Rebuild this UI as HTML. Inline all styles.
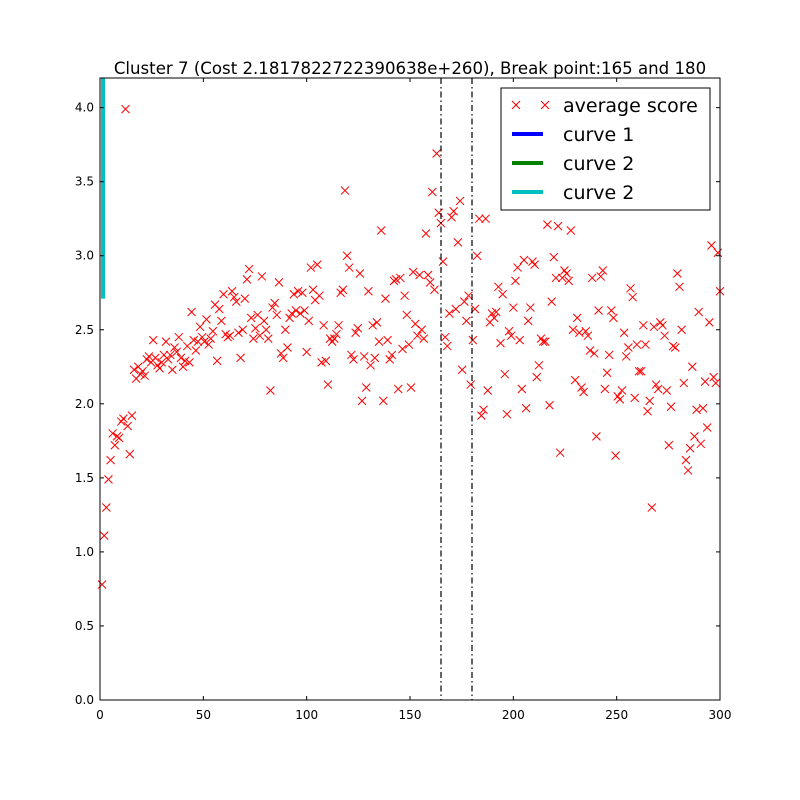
<!DOCTYPE html>
<html><head><meta charset="utf-8"><style>
body{margin:0;background:#fff}
svg{display:block;font-family:"DejaVu Sans","Liberation Sans",sans-serif}
</style></head><body>
<svg id="chart" width="800" height="800" xmlns="http://www.w3.org/2000/svg">
<rect width="800" height="800" fill="#fff"/>
<text x="410" y="74" text-anchor="middle" font-size="16.6">Cluster 7 (Cost 2.1817822722390638e+260), Break point:165 and 180</text>
<g id="plot"></g>
<rect x="100" y="78" width="620" height="622" fill="none" stroke="#000" stroke-width="1"/>
<g>
<rect x="501" y="88" width="209" height="122" fill="#fff" stroke="#000" stroke-width="1"/>
<g>
<path d="M512 101l8 8M520 101l-8 8M541 101l8 8M549 101l-8 8" stroke="#f00" stroke-width="1"/>
<text x="563" y="112" font-size="19">average score</text></g>
<g><line x1="512" y1="134" x2="543" y2="134" stroke="#00f" stroke-width="4"/><text x="563" y="141" font-size="19">curve 1</text></g>
<g><line x1="512" y1="163" x2="543" y2="163" stroke="#008000" stroke-width="4"/><text x="563" y="170" font-size="19">curve 2</text></g>
<g><line x1="512" y1="192" x2="543" y2="192" stroke="#00bfbf" stroke-width="4"/><text x="563" y="199" font-size="19">curve 2</text></g>
</g>
</svg>
<script>
const yValues=[0.78,1.11,1.30,1.49,1.62,1.80,1.72,1.78,1.77,1.88,1.90,3.99,1.85,1.66,1.92,2.23,2.17,2.25,2.20,2.22,2.19,2.30,2.32,2.28,2.43,2.31,2.26,2.24,2.28,2.33,2.42,2.30,2.33,2.23,2.38,2.35,2.45,2.31,2.25,2.29,2.39,2.28,2.62,2.43,2.36,2.42,2.52,2.45,2.42,2.57,2.40,2.44,2.49,2.67,2.29,2.64,2.56,2.74,2.47,2.45,2.46,2.76,2.72,2.69,2.48,2.31,2.50,2.71,2.84,2.91,2.58,2.44,2.51,2.60,2.46,2.86,2.56,2.50,2.44,2.09,2.65,2.68,2.60,2.82,2.34,2.31,2.50,2.38,2.58,2.61,2.74,2.63,2.76,2.61,2.75,2.63,2.35,2.56,2.92,2.77,2.70,2.94,2.73,2.28,2.53,2.29,2.13,2.44,2.42,2.44,2.47,2.53,2.75,2.77,3.44,3.00,2.92,2.33,2.30,2.48,2.51,2.88,2.02,2.32,2.11,2.76,2.26,2.53,2.31,2.55,2.42,3.17,2.02,2.71,2.43,2.30,2.33,2.83,2.84,2.10,2.85,2.37,2.73,2.60,2.40,2.11,2.89,2.54,2.46,2.87,2.50,2.44,3.15,2.87,2.82,3.43,2.77,3.69,3.29,3.22,2.96,2.45,2.39,2.61,3.26,3.30,2.64,3.09,3.37,2.23,2.69,2.56,2.73,2.13,2.43,2.64,3.00,3.25,1.92,1.96,3.25,2.09,2.55,2.61,2.58,2.62,2.79,2.41,2.74,2.20,1.93,2.49,2.46,2.65,2.83,2.92,2.43,2.10,2.97,1.97,2.56,2.65,2.96,2.94,2.18,2.26,2.44,2.42,2.42,3.21,1.99,2.69,2.99,2.85,3.20,1.67,2.85,2.90,2.88,2.83,3.17,2.50,2.16,2.58,2.48,2.11,2.08,2.49,2.46,2.36,2.85,2.34,1.78,2.63,2.86,2.90,2.10,2.21,2.33,2.63,2.58,1.65,2.05,2.03,2.09,2.48,2.32,2.38,2.78,2.72,2.04,2.40,2.22,2.22,2.53,2.40,1.95,2.02,1.30,2.52,2.13,2.10,2.55,2.53,2.46,2.09,1.72,1.98,2.39,2.38,2.88,2.79,2.50,2.14,1.62,1.55,1.70,2.25,1.78,1.96,2.62,1.73,1.97,2.15,1.84,2.55,3.07,2.18,2.14,3.02,2.76];
const xTicks=[0,50,100,150,200,250,300];
const yTicks=[0.0,0.5,1.0,1.5,2.0,2.5,3.0,3.5,4.0];
const breakPoints=[165,180];
const curveX=[1,1];
const curveY=[2.71,4.2];
const X0=100,X1=720,Y0=700,Y1=78,XMAX=300,YMAX=4.2;
const sx=v=>X0+v/XMAX*(X1-X0);
const sy=v=>Y0-v/YMAX*(Y0-Y1);
const NS='http://www.w3.org/2000/svg';
const g=document.getElementById('plot');
function mk(t,a){const e=document.createElementNS(NS,t);for(const k in a)e.setAttribute(k,a[k]);g.appendChild(e);return e;}
const n=yValues.length;
yValues.forEach((v,i)=>{
  const xv=1+i*(299/(n-1));
  const cx=sx(xv),cy=sy(v);
  const p=mk('path',{d:`M${cx-4} ${cy-4}l8 8M${cx+4} ${cy-4}l-8 8`,stroke:'#f00','stroke-width':1,fill:'none'});
  
  
});
breakPoints.forEach(b=>{
  const l=mk('line',{x1:sx(b),x2:sx(b),y1:Y1,y2:Y0,stroke:'#000','stroke-width':1.2,'stroke-dasharray':'6 3 1.5 3'});
  
  
});
const c=mk('line',{x1:sx(curveX[0])+1,x2:sx(curveX[1])+1,y1:sy(curveY[0]),y2:sy(curveY[1]),stroke:'#00bfbf','stroke-width':4});


xTicks.forEach(t=>{
  const x=sx(t);
  mk('line',{x1:x,x2:x,y1:Y0,y2:Y0-4,stroke:'#000'});
  mk('line',{x1:x,x2:x,y1:Y1,y2:Y1+4,stroke:'#000'});
  const tx=mk('text',{x:x,y:Y0+19,'text-anchor':'middle','font-size':12});
  tx.textContent=t;
  
  
});
yTicks.forEach(t=>{
  const y=sy(t);
  mk('line',{x1:X0,x2:X0+4,y1:y,y2:y,stroke:'#000'});
  mk('line',{x1:X1,x2:X1-4,y1:y,y2:y,stroke:'#000'});
  const tx=mk('text',{x:X0-6,y:y+4,'text-anchor':'end','font-size':12});
  tx.textContent=t.toFixed(1);
  
  
});
</script>
</body></html>
